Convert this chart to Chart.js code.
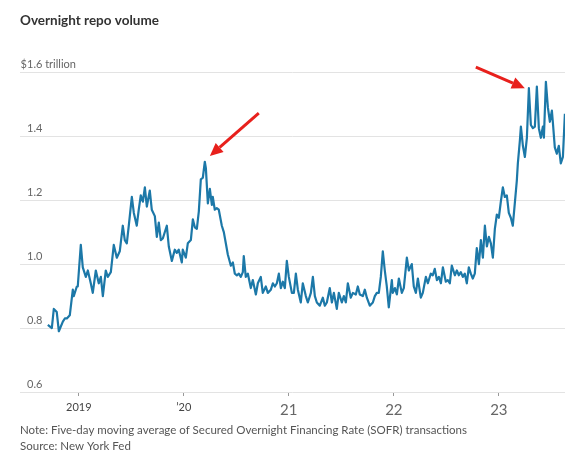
<!DOCTYPE html>
<html lang="en">
<head>
  <meta charset="UTF-8" />
  <title>Overnight repo volume</title>
  <script src="https://cdn.jsdelivr.net/npm/chart.js"></script>
  <style>
    body {
      margin: 0;
      padding: 0;
      background: #fff;
    }

    .contenedor {
      width: 575px;
      height: 461px;
      position: relative;
    }
  </style>
</head>
<body>
  <div class="contenedor">
    <canvas id="grafico"></canvas>
  </div>

  <script>
    // fecha como año decimal
    const dates = [
      2018.705, 2018.743, 2018.762, 2018.790, 2018.810, 2018.848, 2018.867, 2018.886, 2018.914, 2018.943, 2018.952, 2018.981, 2018.990,
      2019.019, 2019.038, 2019.067, 2019.086, 2019.114, 2019.133, 2019.162, 2019.190, 2019.210, 2019.229,
      2019.257, 2019.276, 2019.305, 2019.333, 2019.362, 2019.390, 2019.419, 2019.438, 2019.457, 2019.476,
      2019.505, 2019.524, 2019.552, 2019.571, 2019.590, 2019.610, 2019.629, 2019.648, 2019.676, 2019.695,
      2019.724, 2019.743, 2019.762, 2019.781, 2019.800, 2019.838, 2019.857, 2019.886, 2019.914, 2019.933,
      2019.952, 2019.981, 2019.990,
      2020.019, 2020.038, 2020.067, 2020.086, 2020.105, 2020.124, 2020.143, 2020.162, 2020.181, 2020.200,
      2020.210, 2020.229, 2020.248, 2020.267, 2020.276, 2020.295, 2020.314, 2020.333, 2020.362, 2020.381,
      2020.400, 2020.419, 2020.448, 2020.467, 2020.486, 2020.505, 2020.524, 2020.543, 2020.562, 2020.571,
      2020.590, 2020.610, 2020.638, 2020.657, 2020.686, 2020.705, 2020.733, 2020.752, 2020.781, 2020.800,
      2020.829, 2020.848, 2020.867, 2020.886, 2020.905, 2020.924, 2020.943, 2020.962, 2020.981,
      2021.000, 2021.029, 2021.048, 2021.067, 2021.086, 2021.114, 2021.133, 2021.162, 2021.181, 2021.210,
      2021.229, 2021.248, 2021.267, 2021.295, 2021.324, 2021.343, 2021.362, 2021.390, 2021.410, 2021.429,
      2021.457, 2021.476, 2021.505, 2021.524, 2021.543, 2021.562, 2021.590, 2021.610, 2021.638, 2021.657,
      2021.676, 2021.705, 2021.724, 2021.743, 2021.771, 2021.800, 2021.819, 2021.838, 2021.857, 2021.876,
      2021.895, 2021.914, 2021.933, 2021.952, 2021.981, 2021.990,
      2022.010, 2022.029, 2022.048, 2022.076, 2022.095, 2022.124, 2022.143, 2022.171, 2022.190, 2022.210,
      2022.229, 2022.257, 2022.276, 2022.305, 2022.324, 2022.352, 2022.371, 2022.390, 2022.410, 2022.429,
      2022.448, 2022.467, 2022.495, 2022.514, 2022.533, 2022.552, 2022.581, 2022.600, 2022.619, 2022.638,
      2022.657, 2022.676, 2022.695, 2022.714, 2022.733, 2022.752, 2022.771, 2022.790, 2022.810, 2022.829,
      2022.848, 2022.867, 2022.886, 2022.905, 2022.924, 2022.943, 2022.962, 2022.981,
      2023.000, 2023.019, 2023.038, 2023.057, 2023.076, 2023.095, 2023.114, 2023.133, 2023.152, 2023.171,
      2023.181, 2023.200, 2023.210, 2023.229, 2023.248, 2023.267, 2023.286, 2023.305, 2023.324, 2023.343,
      2023.362, 2023.381, 2023.400, 2023.419, 2023.429, 2023.448, 2023.467, 2023.486, 2023.505, 2023.514,
      2023.533, 2023.552, 2023.571, 2023.590, 2023.610, 2023.629
    ];

    // billones de dólares (trillions)
    const volume = [
      0.81, 0.80, 0.86, 0.85, 0.79, 0.82, 0.83, 0.83, 0.84, 0.92, 0.90, 0.93, 0.93,
      1.06, 0.99, 0.96, 0.98, 0.94, 0.91, 0.98, 0.94, 0.96, 0.90,
      0.98, 0.96, 0.975, 1.06, 1.02, 1.04, 1.12, 1.075, 1.065, 1.12,
      1.21, 1.16, 1.12, 1.17, 1.215, 1.195, 1.24, 1.18, 1.23, 1.17,
      1.15, 1.085, 1.13, 1.075, 1.08, 1.12, 1.055, 1.01, 1.045, 1.035,
      1.045, 1.005, 1.045,
      1.02, 1.065, 1.075, 1.14, 1.115, 1.11, 1.165, 1.265, 1.27, 1.32,
      1.30, 1.19, 1.235, 1.185, 1.21, 1.17, 1.175, 1.17, 1.12, 1.10,
      1.065, 1.03, 0.995, 1.005, 0.97, 0.965, 0.97, 0.96, 0.975, 1.025,
      0.96, 0.97, 0.925, 0.95, 0.905, 0.94, 0.96, 0.91, 0.93, 0.91,
      0.92, 0.94, 0.93, 0.94, 0.97, 0.925, 0.945, 0.925, 1.01,
      0.96, 0.91, 0.91, 0.97, 0.92, 0.88, 0.94, 0.90, 0.88, 0.91,
      0.96, 0.90, 0.88, 0.87, 0.895, 0.87, 0.88, 0.925, 0.88, 0.91,
      0.86, 0.91, 0.88, 0.90, 0.88, 0.94, 0.895, 0.91, 0.905, 0.93,
      0.905, 0.90, 0.92, 0.895, 0.87, 0.88, 0.90, 0.91, 0.91, 0.96,
      1.04, 0.98, 0.93, 0.865, 0.95, 0.91,
      0.925, 0.905, 0.955, 0.91, 0.925, 1.02, 0.98, 1.00, 0.93, 0.91,
      0.955, 0.895, 0.91, 0.96, 0.94, 0.97, 0.965, 0.985, 0.95, 0.96,
      0.94, 0.99, 0.945, 0.95, 0.94, 0.995, 0.965, 0.98, 0.965, 0.975,
      0.96, 0.97, 0.94, 0.99, 0.97, 0.955, 0.97, 1.05, 1.00, 1.075,
      1.02, 1.12, 1.055, 1.085, 1.065, 1.02, 1.11, 1.155,
      1.145, 1.195, 1.24, 1.21, 1.215, 1.16, 1.145, 1.12, 1.19, 1.26,
      1.315, 1.385, 1.43, 1.37, 1.335, 1.395, 1.55, 1.435, 1.425, 1.43,
      1.555, 1.425, 1.395, 1.43, 1.395, 1.57, 1.49, 1.445, 1.48, 1.445,
      1.365, 1.345, 1.37, 1.315, 1.335, 1.47
    ];

    const yearTicks = [2019, 2020, 2021, 2022, 2023];
    const yearLabels = ['2019', '\u201920', '21', '22', '23'];
    const volumeTicks = [0.6, 0.8, 1.0, 1.2, 1.4, 1.6];
    const volumeLabels = ['0.6', '0.8', '1.0', '1.2', '1.4', '$1.6 trillion'];

    // flechas rojas: desde -> hasta, en unidades de datos
    const arrows = [
      { from: [2020.714, 1.472], to: [2020.248, 1.338] },
      { from: [2022.781, 1.616], to: [2023.248, 1.550] }
    ];

    const fuente = 'Lato, "Noto Sans", sans-serif';

    const etiquetasY = {
      id: 'etiquetasY',
      afterDraw(chart) {
        const { ctx, chartArea } = chart;
        const y = chart.scales.y;
        ctx.save();
        ctx.font = '11px ' + fuente;
        ctx.fillStyle = '#666';
        ctx.textBaseline = 'middle';
        ctx.textAlign = 'left';
        const x0 = chartArea.left + 7;
        volumeTicks.forEach((v, i) => {
          let texto = volumeLabels[i];
          let x = x0;
          if (texto.startsWith('$')) x -= ctx.measureText('$').width;
          ctx.fillText(texto, x, y.getPixelForValue(v) - 8);
        });
        ctx.restore();
      }
    };

    const flechas = {
      id: 'flechas',
      afterDatasetsDraw(chart) {
        const { ctx, scales } = chart;
        ctx.save();
        ctx.strokeStyle = '#e8201c';
        ctx.fillStyle = '#e8201c';
        ctx.lineWidth = 3;
        arrows.forEach(a => {
          const x1 = scales.x.getPixelForValue(a.from[0]);
          const y1 = scales.y.getPixelForValue(a.from[1]);
          const x2 = scales.x.getPixelForValue(a.to[0]);
          const y2 = scales.y.getPixelForValue(a.to[1]);
          const ang = Math.atan2(y2 - y1, x2 - x1);
          const largo = 13, ancho = 6;
          const bx = x2 - largo * Math.cos(ang);
          const by = y2 - largo * Math.sin(ang);
          ctx.beginPath();
          ctx.moveTo(x1, y1);
          ctx.lineTo(bx, by);
          ctx.stroke();
          ctx.beginPath();
          ctx.moveTo(x2, y2);
          ctx.lineTo(bx + ancho * Math.sin(ang), by - ancho * Math.cos(ang));
          ctx.lineTo(bx - ancho * Math.sin(ang), by + ancho * Math.cos(ang));
          ctx.closePath();
          ctx.fill();
        });
        ctx.restore();
      }
    };

    new Chart(document.getElementById('grafico'), {
      type: 'line',
      data: {
        datasets: [{
          data: dates.map((d, i) => ({ x: d, y: volume[i] })),
          borderColor: '#1c78a8',
          borderWidth: 2.2,
          pointRadius: 0,
          tension: 0,
          borderJoinStyle: 'round'
        }]
      },
      options: {
        responsive: true,
        maintainAspectRatio: false,
        animation: false,
        layout: { padding: { left: 20, right: 10, top: 0, bottom: 0 } },
        scales: {
          x: {
            type: 'linear',
            min: 2018.44,
            max: 2023.63,
            afterBuildTicks(scale) {
              scale.ticks = yearTicks.map(v => ({ value: v }));
            },
            afterFit(scale) {
              scale.height = 26;
            },
            grid: {
              drawOnChartArea: false,
              drawTicks: true,
              tickLength: 4,
              color: '#999'
            },
            border: { display: false },
            ticks: {
              autoSkip: false,
              maxRotation: 0,
              padding: 5,
              color: c => c.index < 2 ? '#444' : '#666',
              font: c => c.index < 2 ? { family: fuente, size: 11 } : { family: fuente, size: 15 },
              callback: v => yearLabels[yearTicks.indexOf(v)]
            }
          },
          y: {
            min: 0.6,
            max: 1.6,
            afterBuildTicks(scale) {
              scale.ticks = volumeTicks.map(v => ({ value: v }));
            },
            grid: {
              color: '#e3e3e3',
              drawTicks: false
            },
            border: { display: false },
            ticks: { display: false }
          }
        },
        plugins: {
          legend: { display: false },
          tooltip: { enabled: false },
          title: {
            display: true,
            text: 'Overnight repo volume',
            align: 'start',
            color: '#333',
            font: { family: fuente, size: 13.5, weight: 'bold', lineHeight: 1.2 },
            padding: { top: 13, bottom: 43 }
          },
          subtitle: {
            display: true,
            position: 'bottom',
            align: 'start',
            text: [
              'Note: Five-day moving average of Secured Overnight Financing Rate (SOFR) transactions',
              'Source: New York Fed'
            ],
            color: '#555',
            font: { family: fuente, size: 11.5, lineHeight: 1.39 },
            padding: { top: 4, bottom: 7 }
          }
        }
      },
      plugins: [etiquetasY, flechas]
    });
  </script>
</body>
</html>
